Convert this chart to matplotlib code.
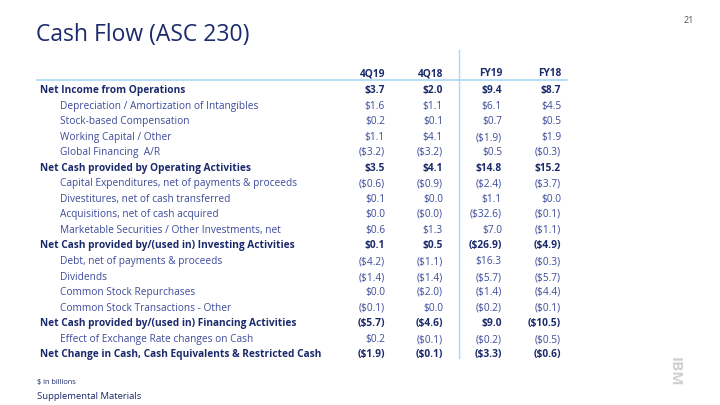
import matplotlib.pyplot as plt
from matplotlib.lines import Line2D

labels = [
    "Net Income from Operations",
    "Depreciation / Amortization of Intangibles",
    "Stock-based Compensation",
    "Working Capital / Other",
    "Global Financing  A/R",
    "Net Cash provided by Operating Activities",
    "Capital Expenditures, net of payments & proceeds",
    "Divestitures, net of cash transferred",
    "Acquisitions, net of cash acquired",
    "Marketable Securities / Other Investments, net",
    "Net Cash provided by/(used in) Investing Activities",
    "Debt, net of payments & proceeds",
    "Dividends",
    "Common Stock Repurchases",
    "Common Stock Transactions - Other",
    "Net Cash provided by/(used in) Financing Activities",
    "Effect of Exchange Rate changes on Cash",
    "Net Change in Cash, Cash Equivalents & Restricted Cash",
]
bold_rows = [0, 5, 10, 15, 17]
columns = ["4Q19", "4Q18", "FY19", "FY18"]
q4_19 = ["$3.7", "$1.6", "$0.2", "$1.1", "($3.2)", "$3.5", "($0.6)", "$0.1", "$0.0", "$0.6",
         "$0.1", "($4.2)", "($1.4)", "$0.0", "($0.1)", "($5.7)", "$0.2", "($1.9)"]
q4_18 = ["$2.0", "$1.1", "$0.1", "$4.1", "($3.2)", "$4.1", "($0.9)", "$0.0", "($0.0)", "$1.3",
         "$0.5", "($1.1)", "($1.4)", "($2.0)", "$0.0", "($4.6)", "($0.1)", "($0.1)"]
fy19 = ["$9.4", "$6.1", "$0.7", "($1.9)", "$0.5", "$14.8", "($2.4)", "$1.1", "($32.6)", "$7.0",
        "($26.9)", "$16.3", "($5.7)", "($1.4)", "($0.2)", "$9.0", "($0.2)", "($3.3)"]
fy18 = ["$8.7", "$4.5", "$0.5", "$1.9", "($0.3)", "$15.2", "($3.7)", "$0.0", "($0.1)", "($1.1)",
        "($4.9)", "($0.3)", "($5.7)", "($4.4)", "($0.1)", "($10.5)", "($0.5)", "($0.6)"]

plt.rcParams['font.family'] = 'Open Sans'
dark = '#1b2a6b'
light = '#3d4b9a'
rule = '#a8d8f6'

fig = plt.figure(figsize=(7.2, 4.05), dpi=100)
W, H = 720.0, 405.0

def px(x, y):
    return x / W, 1 - y / H

def put(x, y, s, **kw):
    fig.text(*px(x, y), s, **kw)

put(36, 41, "Cash Flow (ASC 230)", fontsize=16.5, color=dark, va='baseline')
put(694, 23, "21", fontsize=6.5, color='#555555', va='baseline', ha='right')

col_x = [385, 443, 502, 561]
for cx, name in zip(col_x, columns):
    put(cx, 76, name, fontsize=7.3, color=dark, weight='bold', ha='right', va='baseline')

fig.add_artist(Line2D([37 / W, 567 / W], [1 - 80 / H, 1 - 80 / H], color=rule, lw=1.2))
fig.add_artist(Line2D([459 / W, 459 / W], [1 - 50 / H, 1 - 358 / H], color=rule, lw=1.0))

y0, dy = 93, 15.55
for i, lab in enumerate(labels):
    y = round(y0 + i * dy)
    b = i in bold_rows
    kw = dict(fontsize=7.3, va='baseline', color=dark if b else light,
              weight='bold' if b else 'normal')
    put(40 if b else 60, y, lab, **kw)
    for cx, vals in zip(col_x, [q4_19, q4_18, fy19, fy18]):
        put(cx, y, vals[i], ha='right', **kw)

put(37, 384, "$ in billions", fontsize=5.3, color=dark, va='baseline')
put(37, 399, "Supplemental Materials", fontsize=6.8, color=dark, va='baseline')
put(675, 372, "IBM", fontsize=11, color='#d0d0d0', weight='bold', rotation=270,
    ha='center', va='center')

fig.savefig('out.png', dpi=100)
